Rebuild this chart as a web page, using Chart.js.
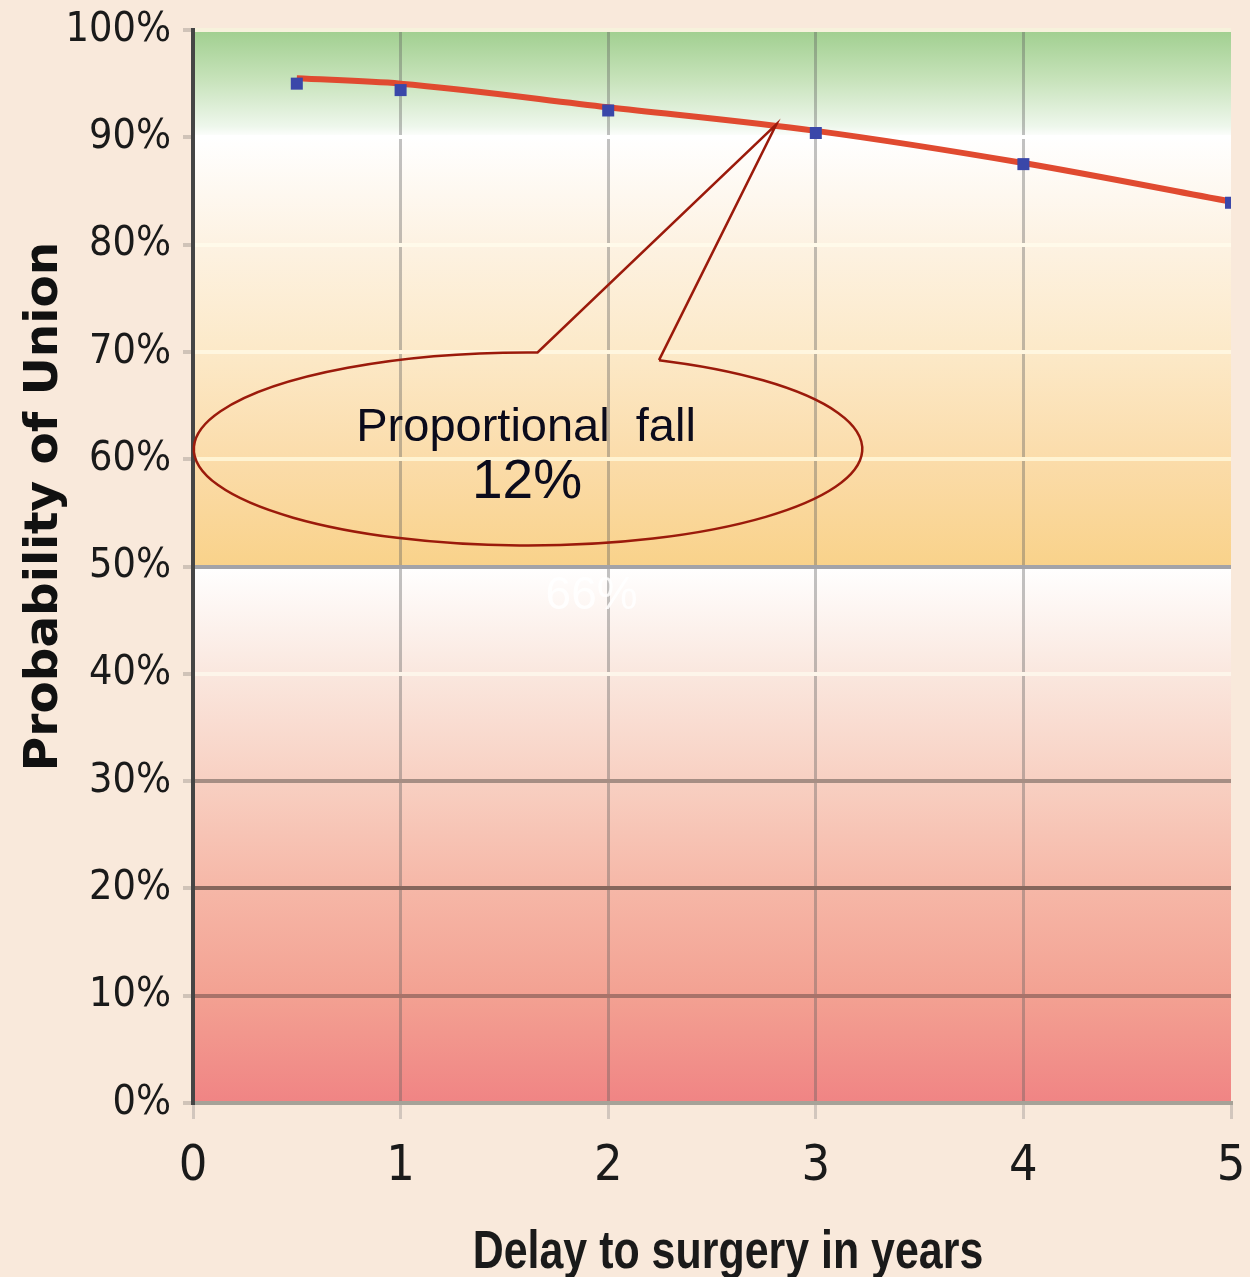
<!DOCTYPE html>
<html>
<head>
<meta charset="utf-8">
<script src="https://cdn.jsdelivr.net/npm/chart.js@4.4.1/dist/chart.umd.min.js"></script>
<style>
  html, body { margin: 0; padding: 0; background: #f9e9db; }
  #wrap { width: 1250px; height: 1277px; }
</style>
</head>
<body>
<div id="wrap"><canvas id="union-chart" width="1250" height="1277"></canvas></div>
<script>
// Probability of union vs delay to surgery (years)
const delayYears = [0.5, 1, 2, 3, 4, 5];
const unionObserved = [95.0, 94.4, 92.5, 90.4, 87.5, 83.9];
const trendYears = [0.5, 1, 2, 3, 4, 5];
const unionTrend = [95.5, 95.0, 92.8, 90.6, 87.6, 84.0];
const xTickValues = [0, 1, 2, 3, 4, 5];
const yTickValues = [0, 10, 20, 30, 40, 50, 60, 70, 80, 90, 100];

const xTitle = 'Delay to surgery in years';
const yTitle = 'Probability of Union';
const calloutLines = ['Proportional  fall', '12%'];
const bandLabel = '66%';

// callout: ellipse and wedge, in data units
const calloutEllipse = { x: 1.614, y: 60.95, rx: 1.61, ry: 9.0 };
const calloutTip = { x: 2.81, y: 91.2 };
const calloutBaseLeft = { x: 1.66, y: 70.0 };
const calloutBaseRight = { x: 2.25, y: 69.3 };

const narrow = '"DejaVu Sans Condensed", "Liberation Sans Narrow", sans-serif';

const hGridColors = {
  0: '#a6a298', 10: '#a8736a', 20: '#86665c', 30: '#a68e84', 40: '#fdf5ea',
  50: '#a3a3a8', 60: '#fff3d2', 70: '#fff6df', 80: '#fffaea', 90: '#ffffff', 100: '#f7f2dc'
};

const backdrop = {
  id: 'backdrop',
  beforeDraw(chart) {
    const { ctx, chartArea: a, scales: { y } } = chart;
    ctx.save();
    ctx.fillStyle = '#f9e9db';
    ctx.fillRect(0, 0, chart.width, chart.height);
    const band = (top, bottom, stops) => {
      const y0 = y.getPixelForValue(top), y1 = y.getPixelForValue(bottom);
      const g = ctx.createLinearGradient(0, y0, 0, y1);
      stops.forEach(([p, c]) => g.addColorStop(p, c));
      ctx.fillStyle = g;
      ctx.fillRect(a.left, y0, a.right - a.left, y1 - y0);
    };
    band(100, 90, [[0, '#a0cf8f'], [0.45, '#c6e2b9'], [0.9, '#eef7ec'], [1, '#ffffff']]);
    band(90, 50, [[0, '#ffffff'], [0.25, '#fdf2e2'], [0.5, '#fce9c8'], [0.75, '#fbdcaa'], [1, '#f9d28a']]);
    band(50, 0, [[0, '#ffffff'], [0.2, '#fae7de'], [0.4, '#f8d0c2'], [0.6, '#f6b7a7'], [0.8, '#f3a192'], [1, '#f08484']]);
    ctx.restore();
  }
};

const overlay = {
  id: 'overlay',
  afterDraw(chart) {
    const { ctx, chartArea: a, scales: { x, y } } = chart;
    ctx.save();

    // band label
    ctx.fillStyle = 'rgba(255,255,255,0.85)';
    ctx.font = '46px "Liberation Sans", Arial, sans-serif';
    ctx.textAlign = 'center';
    ctx.textBaseline = 'middle';
    ctx.fillText(bandLabel, x.getPixelForValue(1.92), y.getPixelForValue(47.2));

    // callout ellipse with open wedge
    const cx = x.getPixelForValue(calloutEllipse.x), cy = y.getPixelForValue(calloutEllipse.y);
    const rx = x.getPixelForValue(calloutEllipse.x + calloutEllipse.rx) - cx;
    const ry = y.getPixelForValue(calloutEllipse.y - calloutEllipse.ry) - cy;
    const angleOf = p => Math.atan2((y.getPixelForValue(p.y) - cy) / ry, (x.getPixelForValue(p.x) - cx) / rx);
    const tL = angleOf(calloutBaseLeft), tR = angleOf(calloutBaseRight);
    ctx.strokeStyle = '#9b1a0b';
    ctx.lineWidth = 2.5;
    ctx.beginPath();
    ctx.ellipse(cx, cy, rx, ry, 0, tR, tL + Math.PI * 2);
    ctx.lineTo(x.getPixelForValue(calloutTip.x), y.getPixelForValue(calloutTip.y));
    ctx.lineTo(cx + rx * Math.cos(tR), cy + ry * Math.sin(tR));
    ctx.stroke();

    ctx.fillStyle = '#0b0b1c';
    ctx.textBaseline = 'alphabetic';
    ctx.font = '47px "Liberation Sans", Arial, sans-serif';
    ctx.fillText(calloutLines[0], cx - 2, cy - 8);
    ctx.font = '55px "Liberation Sans", Arial, sans-serif';
    ctx.fillText(calloutLines[1], cx - 1, cy + 49);

    // axis titles
    ctx.fillStyle = '#1a1a1a';
    ctx.font = 'bold 53px "Liberation Sans", Arial, sans-serif';
    ctx.save();
    ctx.translate((a.left + a.right) / 2 + 16, chart.height - 9);
    ctx.scale(0.81, 1);
    ctx.fillText(xTitle, 0, 0);
    ctx.restore();

    ctx.translate(57, (a.top + a.bottom) / 2 - 60);
    ctx.rotate(-Math.PI / 2);
    ctx.fillStyle = '#111111';
    ctx.font = 'bold 47px "DejaVu Sans", sans-serif';
    ctx.fillText(yTitle, 0, 0);
    ctx.restore();
  }
};

new Chart(document.getElementById('union-chart').getContext('2d'), {
  type: 'line',
  data: {
    datasets: [
      {
        label: 'Observed',
        data: delayYears.map((d, i) => ({ x: d, y: unionObserved[i] })),
        showLine: false,
        pointStyle: 'rect',
        pointRadius: 8.5,
        pointBackgroundColor: '#3a47a9',
        pointBorderColor: '#3a47a9',
        pointBorderWidth: 0,
        order: 0,
      },
      {
        label: 'Trend',
        data: trendYears.map((d, i) => ({ x: d, y: unionTrend[i] })),
        borderColor: '#e04a30',
        borderWidth: 6,
        pointRadius: 0,
        tension: 0.3,
        cubicInterpolationMode: 'monotone',
        fill: false,
        order: 1,
      },
    ],
  },
  options: {
    responsive: false,
    animation: false,
    devicePixelRatio: 1,
    layout: { padding: { top: 30, right: 19, left: 0, bottom: 0 } },
    plugins: { legend: { display: false }, tooltip: { enabled: false } },
    scales: {
      x: {
        type: 'linear', min: 0, max: 5,
        afterBuildTicks: s => { s.ticks = xTickValues.map(v => ({ value: v })); },
        afterFit: s => { s.height = 174; s.paddingLeft = 0; s.paddingRight = 0; },
        ticks: { color: '#1a1a1a', padding: 18, font: { family: narrow, size: 50 } },
        grid: {
          color: c => (c.tick && (c.tick.value === 0 || c.tick.value === 5)) ? 'rgba(0,0,0,0)' : 'rgba(95,95,95,0.38)',
          lineWidth: 3, tickLength: 16, tickColor: 'rgba(120,120,120,0.3)',
        },
        border: { color: '#a6a298', width: 4 },
      },
      y: {
        min: 0, max: 100,
        afterBuildTicks: s => { s.ticks = yTickValues.map(v => ({ value: v })); },
        afterFit: s => { s.width = 193; s.paddingTop = 0; s.paddingBottom = 0; },
        ticks: { color: '#1a1a1a', padding: 12, callback: v => v + '%', font: { family: narrow, size: 41 } },
        grid: {
          color: c => hGridColors[c.tick ? c.tick.value : 0] || '#ffffff',
          lineWidth: 4, tickLength: 10, tickColor: 'rgba(180,170,160,0.6)',
        },
        border: { color: '#454545', width: 4 },
      },
    },
  },
  plugins: [backdrop, overlay],
});
</script>
</body>
</html>
